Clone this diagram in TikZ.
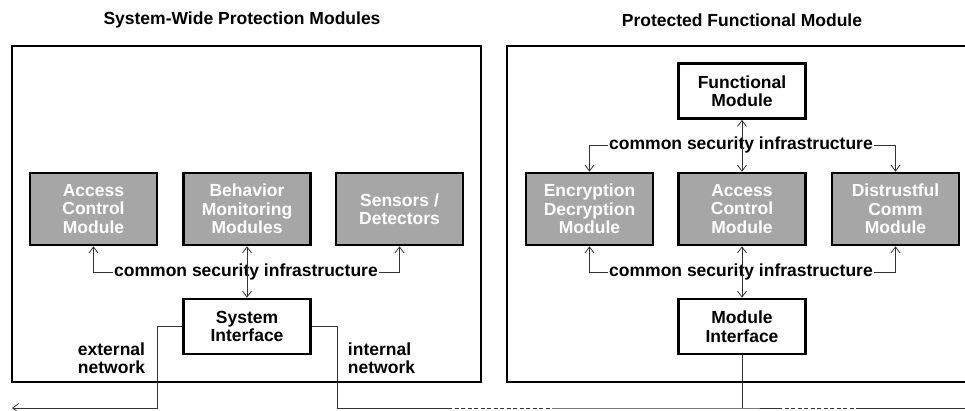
\documentclass[tikz,border=0pt]{standalone}
\usepackage{fontspec}
\setmainfont{Liberation Sans}
\usetikzlibrary{arrows.meta}
\definecolor{modgray}{HTML}{A6A6A6}
\definecolor{linegray}{HTML}{333333}

\begin{document}
\begin{tikzpicture}[
            x=1pt, y=-1pt,
            font=\fontsize{17.5}{18.5}\selectfont\bfseries,
            module/.style={rectangle, draw, line width=2.6pt, fill=modgray, text=white,
                minimum width=127pt, minimum height=72pt, inner sep=1pt, align=center},
            iface/.style={rectangle, draw, line width=2.6pt, fill=white,
                minimum width=127pt, minimum height=55pt, inner sep=1pt, align=center},
            frame/.style={draw, line width=2.6pt},
            conn/.style={draw=linegray, line width=0.8pt},
            tip/.style={conn, -{Straight Barb[length=6pt,width=9pt]}},
            both/.style={conn, {Straight Barb[length=6pt,width=9pt]}-{Straight Barb[length=6pt,width=9pt]}},
            infra/.style={inner sep=1pt}
        ]
            \useasboundingbox (0,0) rectangle (965,411);

            % titles and frames
            \node (titleL) at (242,20) {System-Wide Protection Modules};
            \node (titleR) at (742,20) {Protected Functional Module};
            \path[frame] (12,46) rectangle (481,382);
            \path[frame] (507,46) rectangle (980,382);

            % system-wide side
            \node[module] (acl) at (93.5,209) {Access\\Control\\Module};
            \node[module] (bmm) at (247,209) {Behavior\\Monitoring\\Modules};
            \node[module] (sens) at (399.5,209) {Sensors /\\Detectors};
            \node[iface] (sysif) at (247,326.5) {System\\Interface};
            \node[infra] (csiL) at (246,272) {common security infrastructure};

            \draw[tip] (csiL.west) -| (acl.south);
            \draw[tip] (csiL.east) -| (sens.south);
            \draw[both] (bmm.south) -- (sysif.north);

            \node[align=right] (extnet) at (111.5,358) {external\\network};
            \node[align=left] (intnet) at (381.5,358) {internal\\network};

            % protected module side
            \node[iface] (funcmod) at (742,91) {Functional\\Module};
            \node[infra] (csiT) at (741,145) {common security infrastructure};
            \node[module] (encr) at (589.5,209) {Encryption\\Decryption\\Module};
            \node[module] (racl) at (742,209) {Access\\Control\\Module};
            \node[module] (distr) at (895.5,209) {Distrustful\\Comm\\Module};
            \node[infra] (csiB) at (741,272) {common security infrastructure};
            \node[iface] (modif) at (742,326.5) {Module\\Interface};

            \draw[tip] (csiT.west) -| (encr.north);
            \draw[tip] (csiT.east) -| (distr.north);
            \draw[both] (funcmod.south) -- (racl.north);
            \draw[tip] (csiB.west) -| (encr.south);
            \draw[tip] (csiB.east) -| (distr.south);
            \draw[both] (racl.south) -- (modif.north);

            % network lines
            \coordinate (extcorner) at (157,408);
            \coordinate (extend) at (12,408);
            \coordinate (intcorner) at (337,408);
            \coordinate (gapA) at (448,408);
            \coordinate (gapB) at (552,408);
            \coordinate (tap) at (742,408);
            \coordinate (gapC) at (778,408);
            \coordinate (gapD) at (857,408);
            \coordinate (netend) at (965,408);

            \draw[tip] (sysif.west) -| (extcorner) -- (extend);
            \draw[conn] (sysif.east) -| (intcorner) -- (gapA);
            \draw[conn, dash pattern=on 4pt off 2.5pt] (gapA) -- (gapB);
            \draw[conn] (gapB) -- (tap) -- (gapC);
            \draw[conn, dash pattern=on 4pt off 2.5pt] (gapC) -- (gapD);
            \draw[conn] (gapD) -- (netend);
            \draw[conn] (modif.south) -- (tap);
        \end{tikzpicture}
\end{document}
